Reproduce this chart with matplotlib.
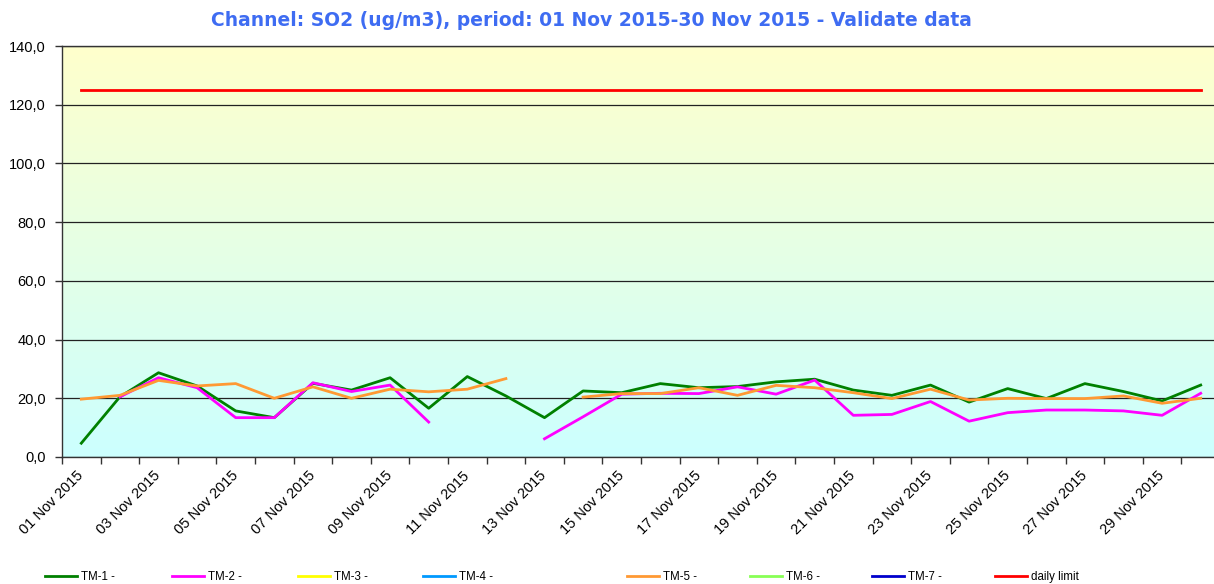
#!/usr/bin/env python3
# -*- coding: utf-8 -*-

import numpy as np
import matplotlib
matplotlib.use("Agg")
import matplotlib.pyplot as plt
from matplotlib.colors import LinearSegmentedColormap
from matplotlib.ticker import FuncFormatter

nan = np.nan

# 日期（2015年11月，30天）
days = [f"{d:02d} Nov 2015" for d in range(1, 31)]

# 各测站 SO2 日均值 (ug/m3)
tm1 = [4.7, 20.5, 28.7, 24.2, 15.7, 13.4, 25.1, 22.8, 27.0, 16.6,
       27.4, 20.8, 13.4, 22.5, 21.9, 25.0, 23.6, 24.0, 25.6, 26.5,
       22.8, 21.0, 24.5, 18.7, 23.3, 19.9, 25.0, 22.3, 19.1, 24.5]
tm2 = [nan, 20.5, 27.0, 23.6, 13.4, 13.4, 25.3, 22.3, 24.5, 11.9,
       nan, nan, 6.2, 13.7, 21.4, 21.7, 21.6, 23.9, 21.4, 26.2,
       14.2, 14.5, 18.9, 12.2, 15.1, 16.0, 16.0, 15.7, 14.2, 21.7]
tm5 = [19.7, 21.0, 26.1, 24.2, 25.0, 20.0, 23.9, 20.0, 23.1, 22.2,
       23.1, 26.7, nan, 20.4, 21.6, 21.6, 23.6, 21.0, 24.4, 23.6,
       21.9, 19.9, 23.1, 19.4, 20.0, 19.9, 19.9, 20.8, 18.3, 20.0]
empty = [nan] * 30
daily_limit = [125.0] * 30

series = [
    ("TM-1 -", tm1, "#008000"),
    ("TM-2 -", tm2, "#FF00FF"),
    ("TM-3 -", empty, "#FFFF00"),
    ("TM-4 -", empty, "#0099FF"),
    ("TM-5 -", tm5, "#FF9933"),
    ("TM-6 -", empty, "#88FF55"),
    ("TM-7 -", empty, "#0000CC"),
    ("daily limit", daily_limit, "#FF0000"),
]

title = "Channel: SO2 (ug/m3), period: 01 Nov 2015-30 Nov 2015 - Validate data"

plt.rcParams['font.family'] = ['Liberation Sans', 'DejaVu Sans']

fig = plt.figure(figsize=(12.14, 5.84), dpi=100)
ax = fig.add_axes([62 / 1214, 127 / 584, (1220 - 62) / 1214, (457 - 46) / 584])

x = np.arange(len(days))

# 背景渐变（上黄下青）
cmap = LinearSegmentedColormap.from_list("bg", ["#CCFFFF", "#FFFFCC"])
grad = np.linspace(1, 0, 256).reshape(-1, 1)
ax.imshow(grad, extent=[-0.5, len(days) - 0.5, 0, 140], aspect='auto',
          cmap=cmap, zorder=0, interpolation='bilinear')

handles = []
for label, values, color in series:
    line, = ax.plot(x, values, color=color, lw=2, label=label, zorder=3)
    handles.append(line)

ax.set_xlim(-0.5, len(days) - 0.5)
ax.set_ylim(0, 140)
ax.set_yticks(np.arange(0, 141, 20))
ax.yaxis.set_major_formatter(FuncFormatter(lambda v, p: f"{v:.1f}".replace('.', ',')))
ax.grid(axis='y', color='#222222', lw=0.9, zorder=1)

# 刻度在日期之间，标签每两天一个
ax.set_xticks(np.arange(-0.5, len(days), 1))
ax.set_xticklabels([])
ax.set_xticks(x[::2], minor=True)
ax.set_xticklabels(days[::2], minor=True, rotation=45, ha='right', va='center',
                   rotation_mode='anchor', fontsize=10.5)
ax.tick_params(axis='x', which='minor', length=0, pad=12)
ax.tick_params(axis='x', which='major', length=5, width=1, color='#333333')
ax.tick_params(axis='y', length=5, width=1, color='#333333', labelsize=10.5, pad=6.5)

for side in ['left', 'bottom', 'top']:
    ax.spines[side].set_color('#333333')
    ax.spines[side].set_linewidth(1)
ax.spines['right'].set_visible(False)

fig.text(0.487, 0.965, title, ha='center', va='center', fontsize=13.5,
         fontweight='bold', color='#3E6CF2', family='DejaVu Sans')

# 图例：底部一行
legend_x = [45, 172, 298, 423, 627, 750, 872, 995]
for h, lx in zip(handles, legend_x):
    fig.legend(handles=[h], loc='center left', bbox_to_anchor=(lx / 1214, 7 / 584),
               frameon=False, fontsize=8.3, handlelength=2.8, handletextpad=0.3,
               borderpad=0, borderaxespad=0)

plt.savefig("out.png", dpi=100)
